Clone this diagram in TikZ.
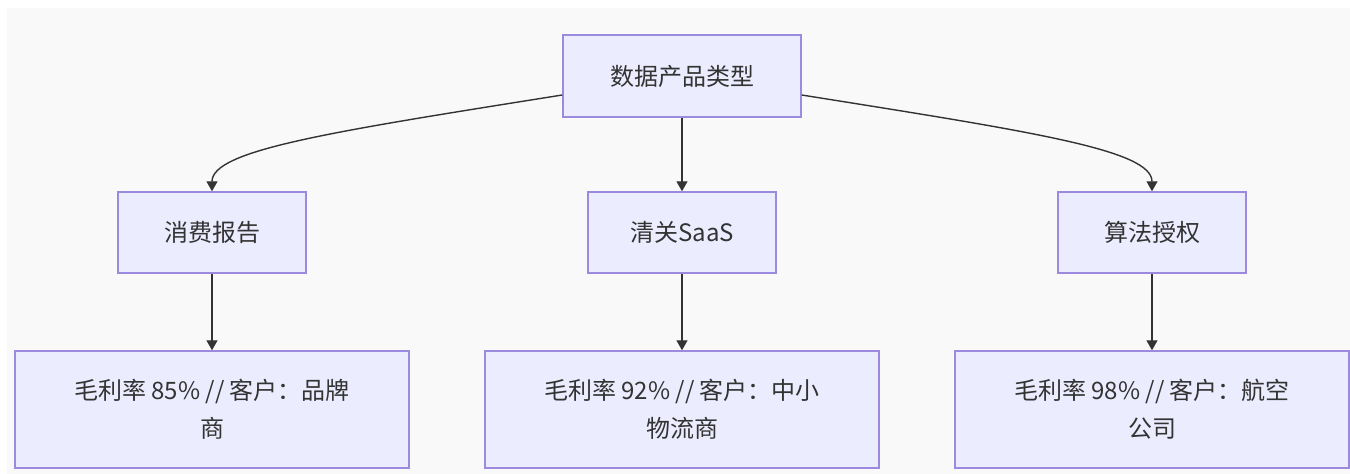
\documentclass[tikz,border=0pt]{standalone}
\usepackage{fontspec}
\setmainfont{Noto Sans CJK SC}
\usetikzlibrary{arrows.meta}
\definecolor{boxfill}{HTML}{ECECFF}
\definecolor{boxline}{HTML}{9C8ADE}
\definecolor{edgecol}{HTML}{333333}
\definecolor{bggray}{HTML}{F9F9F9}
\begin{document}
\begin{tikzpicture}[x=1pt,y=-1pt,
  box/.style={draw=boxline,fill=boxfill,line width=1.5pt,text=edgecol,
    font=\fontsize{24}{38}\selectfont,inner sep=0pt,align=center},
  small/.style={box,minimum width=188pt,minimum height=81pt},
  big/.style={box,minimum width=394pt,minimum height=117pt},
  edge/.style={draw=edgecol,line width=1.4pt,-{Triangle[width=11pt,length=10pt]}}]
\useasboundingbox (0,0) rectangle (1350,474);
\fill[bggray] (7,8) rectangle (1350,474);
\node[box,minimum width=238pt,minimum height=82pt] (top) at (682,76) {数据产品类型};
\node[small] (l) at (212,232.5) {消费报告};
\node[small] (m) at (682,232.5) {清关SaaS};
\node[small] (r) at (1152,232.5) {算法授权};
\node[big] (bl) at (212,409.5) {毛利率 85\% // 客户：品牌\\商};
\node[big] (bm) at (682,409.5) {毛利率 92\% // 客户：中小\\物流商};
\node[big] (br) at (1152,409.5) {毛利率 98\% // 客户：航空\\公司};
\draw[edge] ([yshift=-19pt]top.west) .. controls (330,132) and (212,150) .. (l.north);
\draw[edge] ([yshift=-19pt]top.east) .. controls (1034,132) and (1152,150) .. (r.north);
\draw[edge] (top.south) -- (m.north);
\draw[edge] (l.south) -- (bl.north);
\draw[edge] (m.south) -- (bm.north);
\draw[edge] (r.south) -- (br.north);
\end{tikzpicture}
\end{document}
